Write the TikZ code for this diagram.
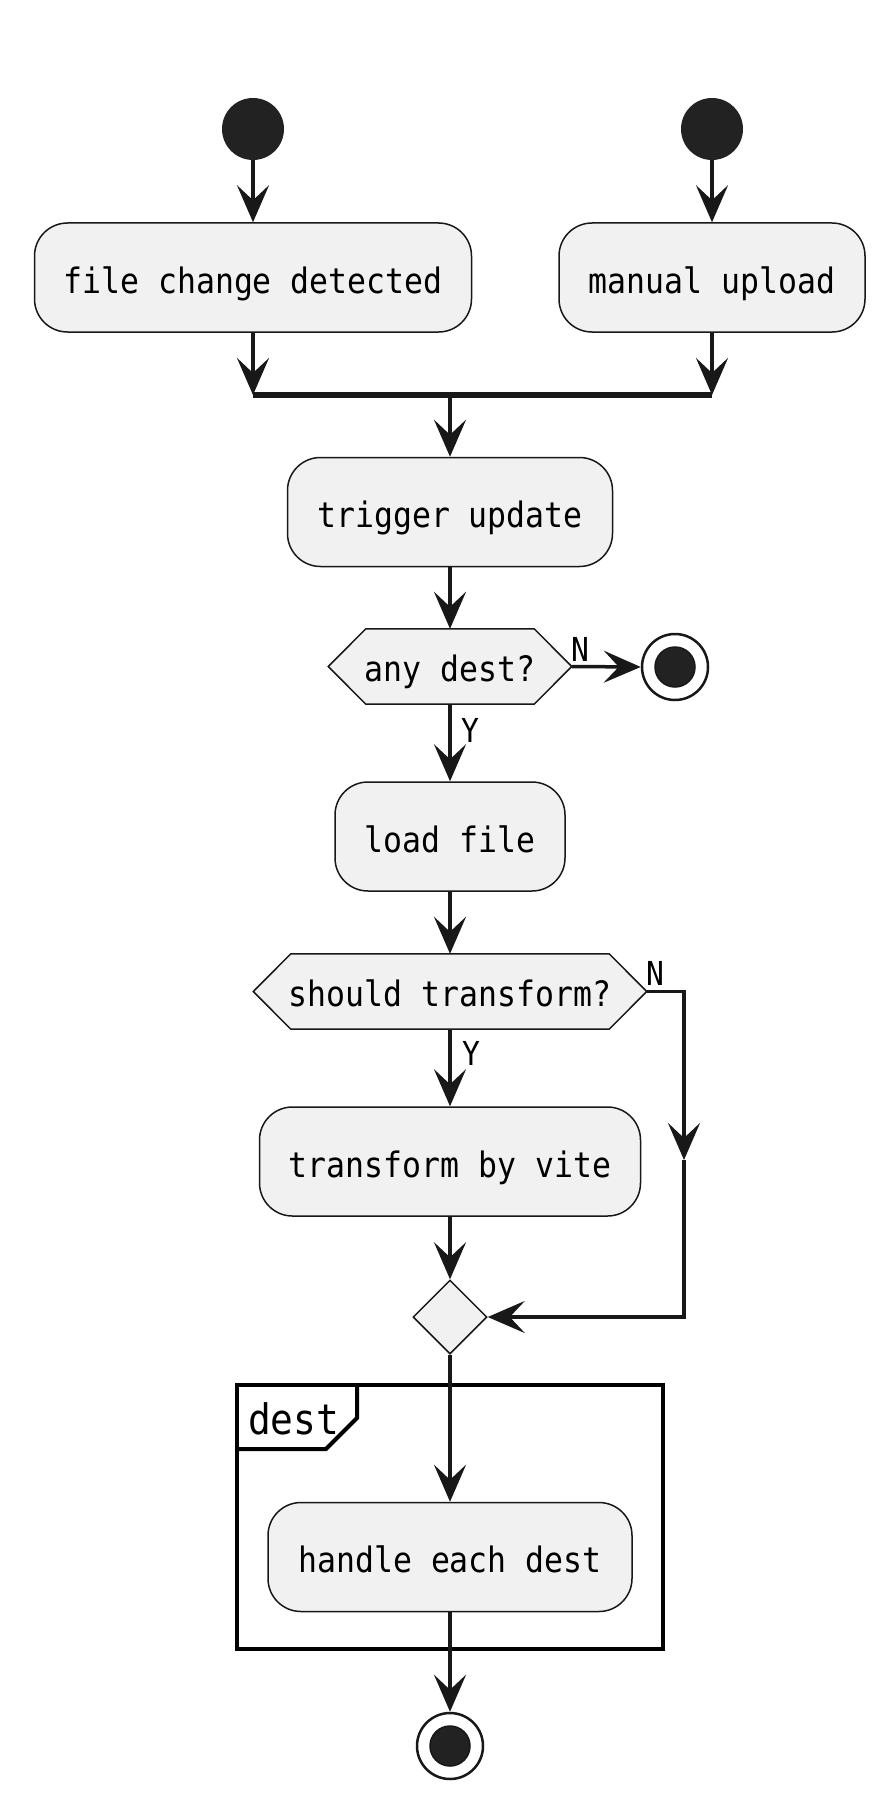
\documentclass[tikz,border=0pt]{standalone}
\usepackage{fontspec}
\newfontfamily\monofont[FakeStretch=0.9]{DejaVu Sans Mono}
\usetikzlibrary{arrows.meta,shapes.geometric}
\definecolor{boxfill}{HTML}{F1F1F1}
\definecolor{ink}{HTML}{181818}
\definecolor{dotc}{HTML}{222222}
\tikzset{
  mainfont/.style={font=\monofont\fontsize{35}{40}\selectfont},
  act/.style={draw=ink, fill=boxfill, line width=1.5pt, rounded corners=33pt,
    minimum height=109pt, inner sep=0pt, text height=31pt, text depth=0pt, mainfont},
  hexbox/.style={inner sep=0pt, minimum height=75pt, text height=30pt, text depth=0pt, mainfont},
  hexline/.style={draw=ink, fill=boxfill, line width=1.5pt},
  conn/.style={draw=ink, line width=3.5pt, -{Stealth[length=37pt,width=32pt,inset=15pt]}},
  plain/.style={draw=ink, line width=3.5pt},
  startdot/.style={circle, fill=dotc, draw=none, minimum size=62pt, inner sep=0pt},
  endring/.style={circle, draw=ink, fill=white, line width=2.5pt, minimum size=66pt, inner sep=0pt},
  enddot/.style={circle, fill=dotc, draw=ink, line width=1.5pt, minimum size=40pt, inner sep=0pt},
  lbl/.style={inner sep=0pt, text=black, font=\monofont\fontsize{33}{36}\selectfont}
}
\begin{document}
\begin{tikzpicture}[x=1pt,y=-1pt]
\fill[white] (0,0) rectangle (896,1811);
\useasboundingbox (0,0) rectangle (896,1811);

% start nodes
\node[startdot] (s1) at (253,129) {};
\node[startdot] (s2) at (712,129) {};
\node[act, minimum width=437pt] (a1) at (253,277.5) {file change detected};
\node[act, minimum width=306pt] (a2) at (712,277.5) {manual upload};
\draw[conn] (s1) -- (a1.north);
\draw[conn] (s2) -- (a2.north);

% fork bar
\node[fill=ink, draw=none, minimum width=459pt, minimum height=5.5pt, inner sep=0pt] (bar) at (482.5,395) {};
\draw[conn] (a1.south) -- (a1.south |- bar.center);
\draw[conn] (a2.south) -- (a2.south |- bar.center);

\node[act, minimum width=325pt] (trig) at (450,512) {trigger update};
\draw[conn] (bar.center -| trig.north) -- (trig.north);

% decision 1
\node[hexbox, minimum width=243pt] (q1) at (450,666.5) {};
\draw[hexline] (q1.west) -- ([xshift=37.5pt]q1.north west) -- ([xshift=-37.5pt]q1.north east)
  -- (q1.east) -- ([xshift=-37.5pt]q1.south east) -- ([xshift=37.5pt]q1.south west) -- cycle;
\node[hexbox, minimum width=243pt] (q1t) at (450,666.5) {any dest?};
\draw[conn] (trig.south) -- (q1.north);

\node[endring] (e1) at (675,667) {};
\node[enddot] (e1d) at (e1.center) {};
\draw[conn] (q1.east) -- (e1.west);
\node[lbl] (n1) at (580,649) {N};

\node[act, minimum width=230pt] (load) at (450,836.5) {load file};
\draw[conn] (q1.south) -- (load.north);
\node[lbl] (y1) at (470,730) {Y};

% decision 2
\node[hexbox, minimum width=393pt] (q2) at (450,991.5) {};
\draw[hexline] (q2.west) -- ([xshift=37.5pt]q2.north west) -- ([xshift=-37.5pt]q2.north east)
  -- (q2.east) -- ([xshift=-37.5pt]q2.south east) -- ([xshift=37.5pt]q2.south west) -- cycle;
\node[hexbox, minimum width=393pt] (q2t) at (450,991.5) {should transform?};
\draw[conn] (load.south) -- (q2.north);

\node[act, minimum width=381pt] (tr) at (450,1161.5) {transform by vite};
\draw[conn] (q2.south) -- (tr.north);
\node[lbl] (y2) at (471,1053) {Y};
\node[lbl] (n2) at (655,973.5) {N};

% merge
\node[diamond, draw=ink, fill=boxfill, line width=1.5pt, minimum width=74pt, minimum height=74pt, inner sep=0pt, aspect=1] (mrg) at (450,1317) {};
\draw[conn] (tr.south) -- (mrg.north);

\coordinate (c1) at (684,991.5);
\coordinate (c2) at (684,1160);
\coordinate (c3) at (684,1317);
\draw[conn] (q2.east) -- (c1) -- (c2);
\draw[conn] (c2) -- (c3) -- (mrg.east);

% partition frame
\node[draw=black, line width=4pt, minimum width=426pt, minimum height=264pt, inner sep=0pt] (fr) at (450,1517) {};
\draw[black, line width=4pt, line join=miter] (237,1449) -- (326,1449) -- (357,1418) -- (357,1383);
\node[anchor=base west, inner sep=0pt, text=black, font=\monofont\fontsize{42}{46}\selectfont] (frl) at (248,1434) {dest};

\node[act, minimum width=364pt] (hd) at (450,1557) {handle each dest};
\draw[conn] (mrg.south) -- (hd.north);

\node[endring] (e2) at (450,1746) {};
\node[enddot] (e2d) at (e2.center) {};
\draw[conn] (hd.south) -- (e2.north);
\end{tikzpicture}
\end{document}
